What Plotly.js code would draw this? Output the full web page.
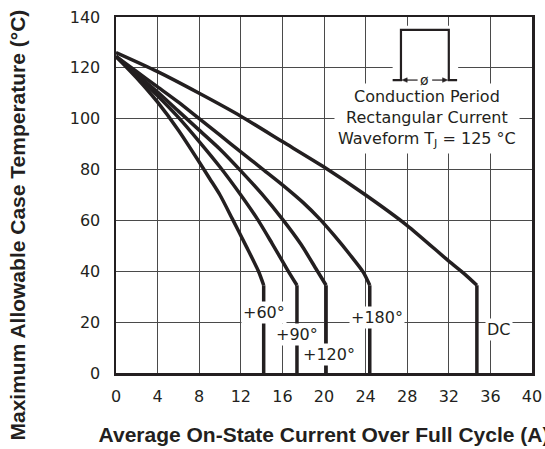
<!DOCTYPE html>
<html>
<head>
<meta charset="utf-8">
<script src="https://cdn.plot.ly/plotly-3.0.1.min.js"></script>
<style>
  html, body { margin: 0; padding: 0; background: #fff; }
  #chart { width: 545px; height: 449px; }
</style>
</head>
<body>
<div id="chart"></div>
<script>
// Curve data (Average current [A] vs max case temperature [°C])
// last point of each curve is the vertical drop at the current limit
const x60  = [0, 2, 4, 6, 8, 9, 10, 11.2, 12.5, 13.7, 14.2, 14.2];
const y60  = [124.5, 116, 106.5, 95.5, 83, 76.5, 70, 60.5, 50, 40, 34.5, 0];

const x90  = [0, 2, 4, 6, 8, 10, 12, 13.6, 15, 16.5, 17.4, 17.4];
const y90  = [124.5, 117, 109, 100.5, 91, 81, 70, 60.5, 51, 40.5, 34.5, 0];

const x120 = [0, 2, 4, 6, 8, 10, 12, 14, 16, 17.8, 19.3, 20.2, 20.2];
const y120 = [124.5, 117.5, 110.5, 103, 95.5, 88, 79.5, 70.5, 60.5, 50.5, 40.5, 34.5, 0];

const x180 = [0, 2, 4, 6, 8, 10, 12, 14, 16, 18, 19.6, 21, 22.5, 23.8, 24.4, 24.4];
const y180 = [124.5, 118.5, 112.5, 106.5, 100, 93.5, 87, 80.5, 74, 67, 60.5, 54, 46.5, 39.5, 34.5, 0];

const xDC  = [0, 4, 8, 12, 16, 20, 24, 28, 32, 33.5, 34.7, 34.7];
const yDC  = [126, 118.5, 110, 101, 91, 81, 70, 58, 44, 39, 34.5, 0];

const curveLabels = ['+60°', '+90°', '+120°', '+180°', 'DC'];
const labelX = [14.2, 17.45, 20.5, 25.1, 36.8];
const labelY = [23.6, 15.1, 7.1, 21.8, 17.1];

const xTicks = [0, 4, 8, 12, 16, 20, 24, 28, 32, 36, 40];
const yTicks = [0, 20, 40, 60, 80, 100, 120, 140];

const insetText = 'Conduction Period<br>Rectangular Current<br>Waveform T<sub>J</sub> = 125 °C';
const xTitle = 'Average On-State Current Over Full Cycle (A)';
const yTitle = 'Maximum Allowable Case Temperature (°C)';

// pulse sketch (inset)
const pulseX = [26.6, 27.4, 27.4, 32.0, 32.0, 32.8];
const pulseY = [115.2, 115.2, 134.9, 134.9, 115.2, 115.2];

const ink = '#231f20';
const regFont = 'DejaVu Sans, Liberation Sans, Arial, sans-serif';
const boldFont = 'Liberation Sans, Arial, sans-serif';

const series = [[x60, y60], [x90, y90], [x120, y120], [x180, y180], [xDC, yDC]];
const traces = [];
series.forEach((s, i) => {
  // curved part (smooth)
  traces.push({
    x: s[0].slice(0, -1), y: s[1].slice(0, -1), type: 'scatter', mode: 'lines',
    name: curveLabels[i],
    line: { color: ink, width: 3.5, shape: 'spline', smoothing: 0.7 },
    hoverinfo: 'skip'
  });
  // vertical drop
  traces.push({
    x: s[0].slice(-2), y: s[1].slice(-2), type: 'scatter', mode: 'lines',
    name: curveLabels[i] + ' limit',
    line: { color: ink, width: 3.5 },
    hoverinfo: 'skip'
  });
});

const annotations = curveLabels.map((t, i) => ({
  x: labelX[i], y: labelY[i], xref: 'x', yref: 'y',
  text: t, showarrow: false, bgcolor: '#ffffff', borderpad: 1,
  font: { family: regFont, size: 16, color: ink }
}));

annotations.push({
  x: 29.9, y: 99.9, xref: 'x', yref: 'y', text: insetText,
  showarrow: false, bgcolor: '#ffffff', borderpad: 3,
  font: { family: regFont, size: 16, color: ink }
});
annotations.push({
  x: 29.7, y: 115.2, xref: 'x', yref: 'y', text: 'ø', showarrow: false,
  font: { family: regFont, size: 14, color: ink }
});
annotations.push({
  x: -0.2356, y: 0.417, xref: 'paper', yref: 'paper', text: '<b>' + yTitle + '</b>',
  textangle: -90, showarrow: false, xanchor: 'center', yanchor: 'middle',
  font: { family: boldFont, size: 21, color: ink }
});

const yb = pulseY[0];
const shapes = [
  { type: 'rect', xref: 'x', yref: 'y', x0: 26.6, x1: 32.9, y0: 112, y1: 136.6,
    fillcolor: '#ffffff', line: { width: 0 }, layer: 'between' },
  { type: 'path', xref: 'x', yref: 'y',
    path: pulseX.map((v, i) => (i === 0 ? 'M' : 'L') + v + ',' + pulseY[i]).join(' '),
    line: { color: ink, width: 2.2 }, layer: 'above' },
  // arrows of the conduction period
  { type: 'line', xref: 'x', yref: 'y', x0: 27.8, x1: 29.0, y0: yb, y1: yb,
    line: { color: ink, width: 1.2 }, layer: 'above' },
  { type: 'path', xref: 'x', yref: 'y',
    path: 'M27.5,' + yb + ' L28.0,' + (yb + 0.9) + ' L28.0,' + (yb - 0.9) + ' Z',
    fillcolor: ink, line: { color: ink, width: 0.5 }, layer: 'above' },
  { type: 'line', xref: 'x', yref: 'y', x0: 30.4, x1: 31.6, y0: yb, y1: yb,
    line: { color: ink, width: 1.2 }, layer: 'above' },
  { type: 'path', xref: 'x', yref: 'y',
    path: 'M31.9,' + yb + ' L31.4,' + (yb + 0.9) + ' L31.4,' + (yb - 0.9) + ' Z',
    fillcolor: ink, line: { color: ink, width: 0.5 }, layer: 'above' }
];

const layout = {
  width: 545, height: 449,
  margin: { l: 116, r: 13, t: 17, b: 76 },
  paper_bgcolor: '#ffffff', plot_bgcolor: '#ffffff',
  showlegend: false,
  xaxis: {
    range: [0, 40], tickvals: xTicks, ticktext: xTicks.map(String),
    showgrid: true, gridcolor: '#4a4a4a', gridwidth: 1, zeroline: false,
    showline: true, mirror: true, linecolor: ink, linewidth: 2.5,
    ticks: '', ticklabelstandoff: 7,
    tickfont: { family: regFont, size: 16, color: ink },
    title: { text: '<b>' + xTitle + '</b>', standoff: 23,
             font: { family: boldFont, size: 21, color: ink } },
    fixedrange: true
  },
  yaxis: {
    range: [0, 140], tickvals: yTicks, ticktext: yTicks.map(String),
    showgrid: true, gridcolor: '#4a4a4a', gridwidth: 1, zeroline: false,
    showline: true, mirror: true, linecolor: ink, linewidth: 2.5,
    ticks: '', ticklabelstandoff: 10,
    tickfont: { family: regFont, size: 16, color: ink },
    fixedrange: true
  },
  annotations: annotations,
  shapes: shapes
};

Plotly.newPlot('chart', traces, layout, { staticPlot: true, displayModeBar: false });
</script>
</body>
</html>
